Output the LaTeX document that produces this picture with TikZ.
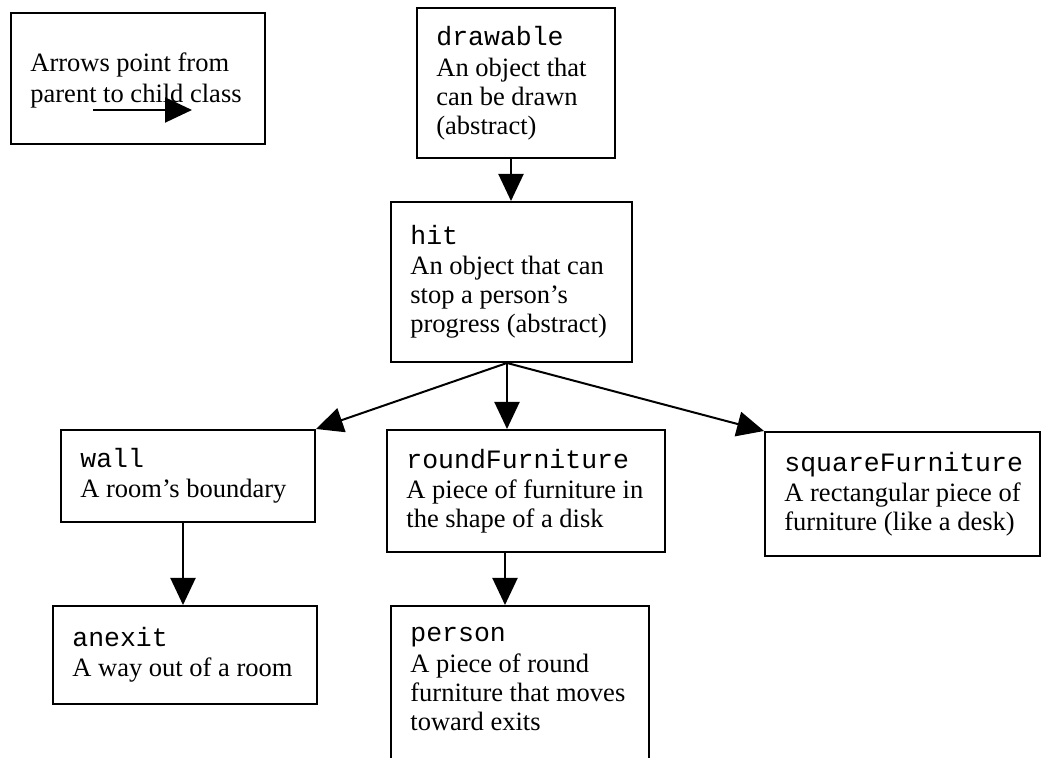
\documentclass[tikz,border=0pt]{standalone}
\usepackage{fontspec}
\setmainfont{Liberation Serif}
\setmonofont{Liberation Mono}
\usetikzlibrary{arrows.meta,fit}

\tikzset{
  classbox/.style={draw, line width=1pt, inner sep=0pt, rectangle},
  classtext/.style={anchor=west, inner sep=0pt, align=left,
    font=\fontsize{13.25}{14.5}\selectfont},
  inherit/.style={line width=1pt, -{Triangle[length=13.5pt,width=12.5pt]}},
}
\newcommand{\cname}[1]{\texttt{#1}\\[0.75pt]}

\begin{document}
\begin{tikzpicture}[x=0.5pt,y=-0.5pt]
  \useasboundingbox (0,0) rectangle (1041,758);
  \fill[white] (0,0) rectangle (1041,758);
  \clip (0,0) rectangle (1041,758);

  % legend
  \node[classbox, fit={(11,13) (265,144)}] (legend) {};
  \node[classtext] (legend-t) at ([xshift=10pt,yshift=-1pt]legend.west)
    {Arrows point from\\[1pt]parent to child class};
  \coordinate (lgA) at (93,110);
  \coordinate (lgB) at (192,110);
  \draw[inherit] (lgA) -- (lgB);

  % class boxes
  \node[classbox, fit={(417,8) (615,158)}] (drawable) {};
  \node[classbox, fit={(391,202) (632,362)}] (hit) {};
  \node[classbox, fit={(61,430) (315,522)}] (wall) {};
  \node[classbox, fit={(387,430) (665,552)}] (roundF) {};
  \node[classbox, fit={(765,432) (1040,556)}] (squareF) {};
  \node[classbox, fit={(53,606) (317,704)}] (anexit) {};
  \node[classbox, fit={(391,606) (649,790)}] (person) {};

  % class texts
  \node[classtext] (drawable-t) at ([xshift=10pt]drawable.west)
    {\cname{drawable}An object that\\can be drawn\\(abstract)};
  \node[classtext] (hit-t) at ([xshift=10pt]hit.west)
    {\cname{hit}An object that can\\stop a person’s\\progress (abstract)};
  \node[classtext] (wall-t) at ([xshift=10pt]wall.west)
    {\cname{wall}A room’s boundary};
  \node[classtext] (roundF-t) at ([xshift=10pt]roundF.west)
    {\cname{roundFurniture}A piece of furniture in\\the shape of a disk};
  \node[classtext] (squareF-t) at ([xshift=10pt]squareF.west)
    {\cname{squareFurniture}A rectangular piece of\\furniture (like a desk)};
  \node[classtext] (anexit-t) at ([xshift=10pt]anexit.west)
    {\cname{anexit}A way out of a room};
  \node[classtext, anchor=north west] (person-t) at ([xshift=10pt,yshift=-11pt]person.north west)
    {\cname{person}A piece of round\\furniture that moves\\toward exits};

  % inheritance arrows
  \coordinate (drawfoot) at ([xshift=-2.5pt]drawable.south);
  \draw[inherit] (drawfoot) -- (drawfoot |- hit.north);
  \coordinate (hitfoot) at ([xshift=-2.25pt]hit.south);
  \draw[inherit] (hitfoot) -- (wall.north east);
  \draw[inherit] (hitfoot) -- (hitfoot |- roundF.north);
  \draw[inherit] (hitfoot) -- (squareF.north west);
  \coordinate (wallfoot) at ([xshift=-2.5pt]wall.south);
  \draw[inherit] (wallfoot) -- (wallfoot |- anexit.north);
  \coordinate (roundfoot) at ([xshift=-10.5pt]roundF.south);
  \draw[inherit] (roundfoot) -- (roundfoot |- person.north);
\end{tikzpicture}
\end{document}
